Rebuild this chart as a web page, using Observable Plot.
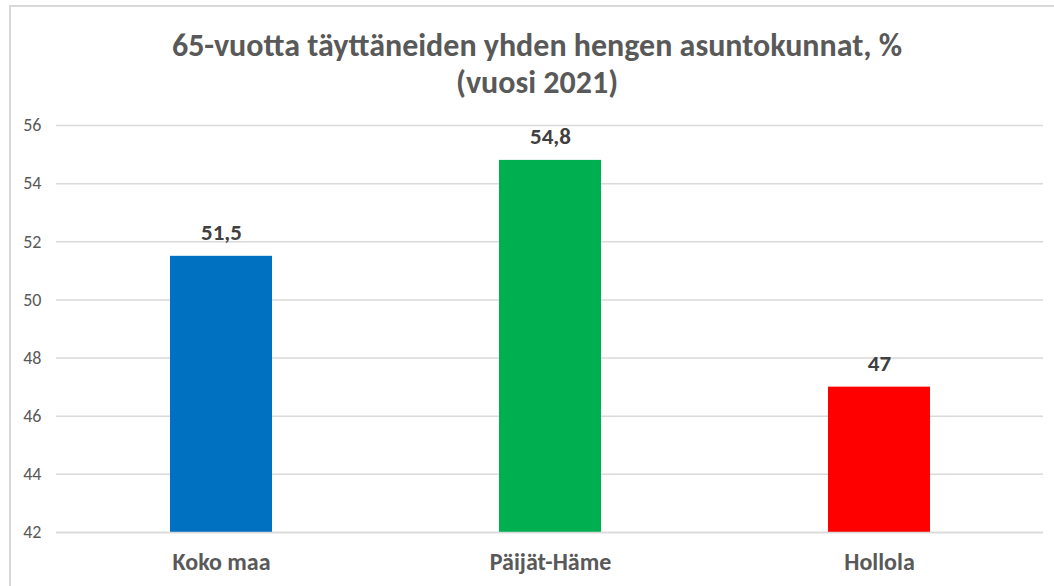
<!DOCTYPE html>
<html><head><meta charset="utf-8">
<script src="https://cdn.jsdelivr.net/npm/d3@7"></script>
<script src="https://cdn.jsdelivr.net/npm/@observablehq/plot@0.6"></script>
<style>
body{margin:0;background:#fff;}
#wrap{position:relative;width:1054px;height:586px;overflow:hidden;}
#frame{position:absolute;left:9px;top:5px;width:1100px;height:700px;border-left:2px solid #d9d9d9;border-top:2px solid #d9d9d9;}
#title{position:absolute;left:0;top:0;width:1074px;padding-top:27px;text-align:center;font-family:Carlito,"Liberation Sans Narrow","Open Sans",sans-serif;font-weight:bold;font-size:32px;line-height:37px;color:#595959;}
#chart{position:absolute;left:0;top:100px;}
</style></head>
<body><div id="wrap"><div id="frame"></div>
<div id="title">65-vuotta täyttäneiden yhden hengen asuntokunnat, %<br>(vuosi 2021)</div>
<div id="chart"></div></div>
<script>
const categories = ["Koko maa", "Päijät-Häme", "Hollola"];
const values = [51.5, 54.8, 47];
const colors = ["#0070C0", "#00B050", "#FF0000"];
const yTicks = [42, 44, 46, 48, 50, 52, 54, 56];

const data = categories.map((c, i) => ({cat: c, value: values[i], color: colors[i]}));
const fmt = v => String(v).replace(".", ",");
const font = 'Carlito,"Liberation Sans Narrow","Open Sans",sans-serif';

const plot = Plot.plot({
  width: 1054,
  height: 482,
  marginTop: 25,
  marginBottom: 50,
  marginLeft: 56,
  marginRight: 11,
  style: {fontFamily: font, background: "transparent", overflow: "visible"},
  x: {domain: categories, paddingInner: 0.69, paddingOuter: 0.345, label: null},
  y: {domain: [42, 56], label: null},
  marks: [
    Plot.gridY(yTicks, {stroke: "#d9d9d9", strokeOpacity: 1, strokeWidth: 1.5}),
    Plot.barY(data, {x: "cat", y1: 42, y2: "value", fill: "color"}),
    Plot.ruleY([42], {stroke: "#d9d9d9", strokeWidth: 1.5}),
    Plot.axisY(yTicks, {tickSize: 0, tickPadding: 15, tickFormat: d => d, fontSize: 18, fill: "#595959", label: null}),
    Plot.axisX({tickSize: 0, tickPadding: 20, fontSize: 24, fontWeight: "bold", fill: "#595959", label: null}),
    Plot.text(data, {x: "cat", y: "value", text: d => fmt(d.value), dy: -24, fontSize: 23, fontWeight: "bold", fill: "#404040"})
  ]
});
document.getElementById("chart").appendChild(plot);
</script></body></html>
